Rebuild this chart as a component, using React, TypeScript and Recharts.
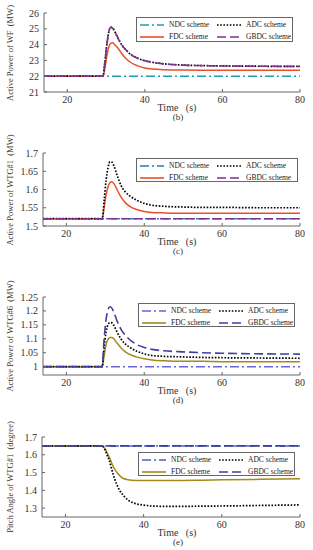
import React from 'react';
import { LineChart, Line, XAxis, YAxis } from 'recharts';

// shared time base (s)
const TIME = [14, 29.2, 29.7, 30.2, 30.7, 31.2, 31.7, 32.2, 33, 34, 35, 36, 38, 40, 42, 45, 50, 55, 60, 70, 80];
const X_TICKS = [20, 40, 60, 80];
const SCHEMES = ['NDC scheme', 'ADC scheme', 'FDC scheme', 'GBDC scheme'];

// (b) active power of WF (MW)
const WF_NDC = [22, 22, 22, 22, 22, 22, 22, 22, 22, 22, 22, 22, 22, 22, 22, 22, 22, 22, 22, 22, 22];
const WF_ADC = [22, 22, 22.9, 24.0, 24.8, 25.1, 25.05, 24.85, 24.45, 24.0, 23.7, 23.45, 23.15, 22.98, 22.88, 22.78, 22.7, 22.67, 22.65, 22.63, 22.62];
const WF_FDC = [22, 22, 22.5, 23.3, 23.85, 24.08, 24.12, 24.0, 23.8, 23.45, 23.15, 22.93, 22.67, 22.52, 22.45, 22.41, 22.39, 22.38, 22.38, 22.37, 22.37];
const WF_GBDC = [22, 22, 22.9, 24.0, 24.8, 25.1, 25.05, 24.85, 24.45, 24.0, 23.7, 23.45, 23.15, 22.98, 22.88, 22.78, 22.7, 22.67, 22.65, 22.63, 22.62];
const WF_TICKS = [21, 22, 23, 24, 25, 26];

// (c) active power of WTG#1 (MW)
const G1_NDC = [1.52, 1.52, 1.52, 1.52, 1.52, 1.52, 1.52, 1.52, 1.52, 1.52, 1.52, 1.52, 1.52, 1.52, 1.52, 1.52, 1.52, 1.52, 1.52, 1.52, 1.52];
const G1_ADC = [1.52, 1.52, 1.57, 1.625, 1.66, 1.676, 1.675, 1.665, 1.64, 1.612, 1.595, 1.585, 1.571, 1.562, 1.557, 1.554, 1.552, 1.551, 1.551, 1.55, 1.55];
const G1_FDC = [1.52, 1.52, 1.55, 1.585, 1.607, 1.619, 1.621, 1.616, 1.6, 1.58, 1.566, 1.556, 1.545, 1.54, 1.537, 1.536, 1.535, 1.535, 1.535, 1.535, 1.535];
const G1_GBDC = [1.52, 1.52, 1.52, 1.52, 1.52, 1.52, 1.52, 1.52, 1.52, 1.52, 1.52, 1.52, 1.52, 1.52, 1.52, 1.52, 1.52, 1.52, 1.52, 1.52, 1.52];
const G1_TICKS = [1.5, 1.55, 1.6, 1.65, 1.7];

// (d) active power of WTG#6 (MW)
const G6_NDC = [1, 1, 1, 1, 1, 1, 1, 1, 1, 1, 1, 1, 1, 1, 1, 1, 1, 1, 1, 1, 1];
const G6_ADC = [1, 1, 1.07, 1.125, 1.15, 1.158, 1.157, 1.148, 1.125, 1.1, 1.083, 1.072, 1.056, 1.046, 1.04, 1.037, 1.035, 1.033, 1.032, 1.031, 1.03];
const G6_FDC = [1, 1, 1.04, 1.08, 1.098, 1.105, 1.105, 1.1, 1.085, 1.068, 1.055, 1.046, 1.035, 1.028, 1.024, 1.021, 1.019, 1.019, 1.018, 1.018, 1.018];
const G6_GBDC = [1, 1, 1.1, 1.17, 1.205, 1.215, 1.21, 1.195, 1.165, 1.135, 1.115, 1.1, 1.08, 1.069, 1.062, 1.057, 1.053, 1.05, 1.048, 1.046, 1.045];
const G6_TICKS = [1, 1.05, 1.1, 1.15, 1.2, 1.25];

// (e) pitch angle of WTG#1 (degree)
const PA_NDC = [1.65, 1.65, 1.65, 1.65, 1.65, 1.65, 1.65, 1.65, 1.65, 1.65, 1.65, 1.65, 1.65, 1.65, 1.65, 1.65, 1.65, 1.65, 1.65, 1.65, 1.65];
const PA_ADC = [1.65, 1.65, 1.645, 1.625, 1.595, 1.57, 1.53, 1.49, 1.44, 1.395, 1.367, 1.345, 1.325, 1.317, 1.312, 1.31, 1.31, 1.311, 1.312, 1.315, 1.318];
const PA_FDC = [1.65, 1.65, 1.645, 1.63, 1.61, 1.586, 1.56, 1.535, 1.505, 1.48, 1.465, 1.46, 1.456, 1.455, 1.455, 1.455, 1.456, 1.457, 1.459, 1.462, 1.465];
const PA_GBDC = [1.65, 1.65, 1.65, 1.65, 1.65, 1.65, 1.65, 1.65, 1.65, 1.65, 1.65, 1.65, 1.65, 1.65, 1.65, 1.65, 1.65, 1.65, 1.65, 1.65, 1.65];
const PA_TICKS = [1.3, 1.4, 1.5, 1.6, 1.7];

const FONT = '"Liberation Serif", "DejaVu Serif", serif';
const AXIS = '#666';
const DASH = { ndc: '9 3 2 3', adc: '1.6 1.6', fdc: undefined, gbdc: '9 4' };
const KEYS = ['ndc', 'adc', 'fdc', 'gbdc'] as const;

type Key = typeof KEYS[number];

const build = (s: Record<Key, number[]>) =>
  TIME.map((t, i) => ({ t, ndc: s.ndc[i], adc: s.adc[i], fdc: s.fdc[i], gbdc: s.gbdc[i] }));

const LegendSample: React.FC<{ color: string; dash?: string }> = ({ color, dash }) => (
  <svg width={24} height={8} style={{ display: 'block' }}>
    <line x1={0} y1={4} x2={24} y2={4} stroke={color} strokeWidth={1.6} strokeDasharray={dash} />
  </svg>
);

const Legend2x2: React.FC<{ box: number[]; colors: Record<Key, string> }> = ({ box, colors }) => {
  const order: Key[] = ['ndc', 'adc', 'fdc', 'gbdc'];
  return (
    <div
      style={{
        position: 'absolute', left: box[0], top: box[1], width: box[2], height: box[3],
        border: `1px solid ${AXIS}`, background: '#fff', boxSizing: 'border-box', fontSize: 7.5,
      }}
    >
      {order.map((k, i) => (
        <div
          key={k}
          style={{
            position: 'absolute', left: i % 2 === 0 ? 3 : 80, top: i < 2 ? 2 : 14,
            display: 'flex', alignItems: 'center', gap: 5, whiteSpace: 'nowrap', color: '#222',
          }}
        >
          <LegendSample color={colors[k]} dash={DASH[k]} />
          <span>{SCHEMES[KEYS.indexOf(k)]}</span>
        </div>
      ))}
    </div>
  );
};

type PanelProps = {
  top: number; height: number; marginTop: number; plotLeft: number; plotBottom: number;
  domain: [number, number]; ticks: number[]; series: Record<Key, number[]>;
  colors: Record<Key, string>; yLabel: string; caption: string; legend: number[];
};

const Panel: React.FC<PanelProps> = (p) => {
  const data = build(p.series);
  const tickStyle = { fontSize: 10, fill: '#333', fontFamily: FONT };
  const plotCenter = (p.top + p.marginTop + p.plotBottom) / 2;
  return (
    <>
      <div style={{ position: 'absolute', left: 0, top: p.top }}>
        <LineChart width={313} height={p.height} data={data}
          margin={{ top: p.marginTop, right: 13, left: 0, bottom: 0 }}>
          <XAxis dataKey="t" type="number" domain={[14, 80]} ticks={X_TICKS} allowDataOverflow interval={0}
            height={p.height - (p.plotBottom - p.top)} tickSize={-3} tickMargin={7}
            stroke={AXIS} tick={tickStyle} />
          <XAxis xAxisId="top" orientation="top" dataKey="t" type="number" domain={[14, 80]} interval={0}
            ticks={X_TICKS} allowDataOverflow height={0} tickSize={-3} tick={false} stroke={AXIS} />
          <YAxis type="number" domain={p.domain} ticks={p.ticks} allowDataOverflow width={p.plotLeft} interval={0}
            tickSize={-3} tickMargin={8} stroke={AXIS} tick={tickStyle} />
          <YAxis yAxisId="right" orientation="right" type="number" domain={p.domain} ticks={p.ticks} interval={0}
            allowDataOverflow width={0} tickSize={-3} tick={false} stroke={AXIS} />
          <Line dataKey="ndc" type="monotone" stroke={p.colors.ndc} strokeWidth={1.5}
            strokeDasharray={DASH.ndc} dot={false} isAnimationActive={false} />
          <Line dataKey="fdc" type="monotone" stroke={p.colors.fdc} strokeWidth={1.5}
            dot={false} isAnimationActive={false} />
          <Line dataKey="adc" type="monotone" stroke={p.colors.adc} strokeWidth={1.7}
            strokeDasharray={DASH.adc} dot={false} isAnimationActive={false} />
          <Line dataKey="gbdc" type="monotone" stroke={p.colors.gbdc} strokeWidth={1.6}
            strokeDasharray={DASH.gbdc} dot={false} isAnimationActive={false} />
        </LineChart>
      </div>
      <Legend2x2 box={p.legend} colors={p.colors} />
      <div style={{
        position: 'absolute', left: 10, top: plotCenter, transform: 'translate(-50%, -50%) rotate(-90deg)',
        fontSize: 8.5, whiteSpace: 'pre', color: '#333',
      }}>{p.yLabel}</div>
      <div style={{
        position: 'absolute', left: 177, top: p.plotBottom + 15, transform: 'translate(-50%, -50%)',
        fontSize: 10, whiteSpace: 'pre', color: '#333',
      }}>{'Time   (s)'}</div>
      <div style={{
        position: 'absolute', left: 178, top: p.plotBottom + 25, transform: 'translate(-50%, -50%)',
        fontSize: 9, color: '#333',
      }}>{p.caption}</div>
    </>
  );
};

const App: React.FC = () => (
  <div style={{ position: 'absolute', left: 0, top: 0, width: 313, height: 550, background: '#fff', fontFamily: FONT }}>
    <Panel top={0} height={110} marginTop={13} plotLeft={44} plotBottom={92} domain={[21, 26]} ticks={WF_TICKS}
      series={{ ndc: WF_NDC, adc: WF_ADC, fdc: WF_FDC, gbdc: WF_GBDC }}
      colors={{ ndc: '#1f9fb0', adc: '#000', fdc: '#e8502a', gbdc: '#7e2f8e' }}
      yLabel={'Active Power of WF  (MW)'} caption="(b)" legend={[136, 17, 157, 25]} />
    <Panel top={140} height={104} marginTop={13} plotLeft={43} plotBottom={226} domain={[1.5, 1.7]} ticks={G1_TICKS}
      series={{ ndc: G1_NDC, adc: G1_ADC, fdc: G1_FDC, gbdc: G1_GBDC }}
      colors={{ ndc: '#2a7ab8', adc: '#000', fdc: '#e8502a', gbdc: '#7e2f8e' }}
      yLabel={'Active Power of WTG#1  (MW)'} caption="(c)" legend={[136, 158, 162, 24]} />
    <Panel top={285} height={108} marginTop={12} plotLeft={43} plotBottom={375} domain={[0.97, 1.25]} ticks={G6_TICKS}
      series={{ ndc: G6_NDC, adc: G6_ADC, fdc: G6_FDC, gbdc: G6_GBDC }}
      colors={{ ndc: '#6b63d8', adc: '#000', fdc: '#a38a1d', gbdc: '#3f3f9f' }}
      yLabel={'Active Power of WTG#6  (MW)'} caption="(d)" legend={[138, 303, 157, 24]} />
    <Panel top={425} height={110} marginTop={12} plotLeft={42} plotBottom={517} domain={[1.25, 1.7]} ticks={PA_TICKS}
      series={{ ndc: PA_NDC, adc: PA_ADC, fdc: PA_FDC, gbdc: PA_GBDC }}
      colors={{ ndc: '#4a5fc8', adc: '#000', fdc: '#a38a1d', gbdc: '#3f3f9f' }}
      yLabel={'Pitch Angle of WTG#1  (degree)'} caption="(e)" legend={[138, 452, 157, 24]} />
  </div>
);

export default App;
